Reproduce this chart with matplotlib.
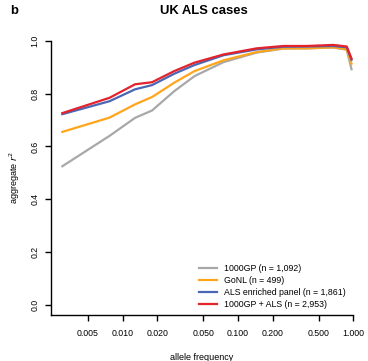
import numpy as np
import matplotlib
matplotlib.use("Agg")
import matplotlib.pyplot as plt

# allele frequency bins (x) and aggregate r^2 per reference panel
freq = [0.003, 0.0077, 0.0128, 0.018, 0.028, 0.042, 0.075, 0.145, 0.247, 0.394, 0.67, 0.877, 0.965]

r2_1000gp = [0.525, 0.640, 0.708, 0.736, 0.809, 0.866, 0.919, 0.955, 0.970, 0.971, 0.974, 0.966, 0.892]
r2_gonl = [0.655, 0.709, 0.759, 0.787, 0.841, 0.885, 0.926, 0.957, 0.971, 0.971, 0.975, 0.967, 0.913]
r2_als = [0.722, 0.771, 0.816, 0.832, 0.875, 0.908, 0.945, 0.967, 0.977, 0.978, 0.980, 0.975, 0.928]
r2_combined = [0.726, 0.784, 0.835, 0.843, 0.885, 0.917, 0.948, 0.971, 0.980, 0.980, 0.984, 0.978, 0.932]

labels = ["1000GP (n = 1,092)", "GoNL (n = 499)",
          "ALS enriched panel (n = 1,861)", "1000GP + ALS (n = 2,953)"]
colors = ["#A8A8A8", "#FFA51C", "#4A66B4", "#E3222B"]

xticks = [0.005, 0.01, 0.02, 0.05, 0.1, 0.2, 0.5, 1.0]
xticklabels = ["0.005", "0.010", "0.020", "0.050", "0.100", "0.200", "0.500", "1.000"]
yticks = [0.0, 0.2, 0.4, 0.6, 0.8, 1.0]

plt.rcParams['font.family'] = ['Liberation Sans', 'DejaVu Sans']

W, H = 368, 361
fig = plt.figure(figsize=(W / 100, H / 100), dpi=100)
ax = fig.add_axes([50.7 / W, 46 / H, (353.3 - 50.7) / W, (315 - 40.7) / H])

for y, c, lab in zip([r2_1000gp, r2_gonl, r2_als, r2_combined], colors, labels):
    ax.plot(freq, y, color=c, linewidth=1.6, label=lab, solid_joinstyle='round')

ax.set_xscale('log')
ax.set_xlim(0.002377, 1.0)
ax.set_ylim(-0.0379, 1.0)
ax.set_xticks(xticks)
ax.set_xticklabels(xticklabels, fontsize=6.3)
ax.minorticks_off()
ax.set_yticks(yticks)
ax.set_yticklabels(["%.1f" % v for v in yticks], fontsize=6.3, rotation=90, va='center')

for s in ['top', 'right']:
    ax.spines[s].set_visible(False)
for s in ['left', 'bottom']:
    ax.spines[s].set_linewidth(1.0)
ax.tick_params(direction='out', length=4, width=1.0)
ax.tick_params(axis='x', pad=6)
ax.tick_params(axis='y', pad=4)

ax.set_xlabel("allele frequency", fontsize=6.5, labelpad=11)
ax.set_ylabel("aggregate $r^2$", fontsize=6.5, labelpad=6)

fig.text(204 / W, 1 - 11 / H, "UK ALS cases", fontsize=9.4, fontweight='bold',
         ha='center', va='center')
fig.text(10 / W, 1 - 11 / H, "b", fontsize=9.4, fontweight='bold',
         ha='left', va='center')

ax.legend(loc='upper left', bbox_to_anchor=(199 / W, 1 - 264 / H),
          bbox_transform=fig.transFigure, frameon=False, fontsize=6.3,
          handlelength=2.0, handletextpad=0.8, labelspacing=0.35,
          borderpad=0, borderaxespad=0)

fig.savefig("out.png", dpi=100)
